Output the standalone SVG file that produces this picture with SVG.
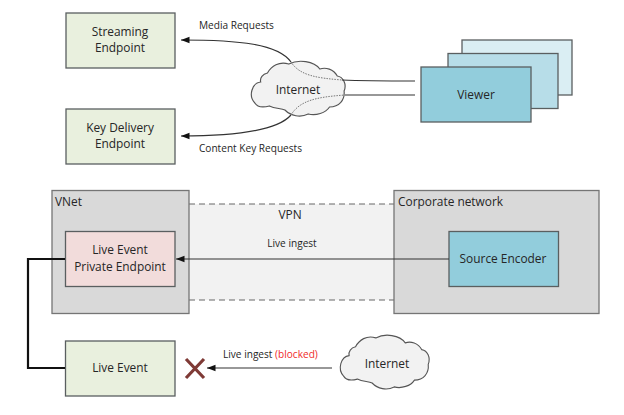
<svg xmlns="http://www.w3.org/2000/svg" width="624" height="415" viewBox="0 0 624 415">
<style>
text{font-family:"Open Sans","Noto Sans","Liberation Sans",sans-serif;fill:#262626;text-anchor:middle}
.n{font-size:11.9px}
.s{font-size:10.1px}
.l{text-anchor:start}
.box{stroke:#5a5f60;stroke-width:1.3}
.g{fill:#e9f0de}
.b{fill:#92cddc}
.net{fill:#d9d9d9;stroke:#757575;stroke-width:1.3}
.c{fill:none;stroke:#333;stroke-width:1.2}
.d{fill:none;stroke:#777;stroke-width:1;stroke-dasharray:1.5 1.2}
.vpn{fill:none;stroke:#666;stroke-width:1;stroke-dasharray:6 4}
.cloud{fill:#f2f2f2;stroke:#555;stroke-width:1.2}
</style>
<defs>
<marker id="a" markerUnits="userSpaceOnUse" markerWidth="10" markerHeight="8" refX="9.500" refY="4" orient="auto"><path d="M9.500 4L1 0.800V7.200Z" fill="#111"/></marker>
<path id="cl" d="M11 22C2 23 -2 36 5 43C8 48 16 47 20 46C26 49 32 48 36 50C42 56 52 58 60 54C68 56 78 53 82 47C92 47 98 40 97 31C100 24 96 17 90 16C86 9 78 7 72 9C66 1 50 -1 40 4C30 1 22 6 18 13C13 14 10 18 11 22Z"/>
</defs>
<g id="vpn">
<rect x="189" y="204" width="205" height="96" fill="#f2f2f2"/>
<path class="vpn" d="M189 204H394M189 300H394"/>
<text class="n" x="290" y="219">VPN</text>
</g>
<g id="streaming-endpoint"><rect class="box g" x="66" y="13" width="109" height="55"/><text class="n" x="120" y="36">Streaming</text><text class="n" x="120" y="52">Endpoint</text></g>
<g id="key-delivery-endpoint"><rect class="box g" x="66" y="109" width="109" height="55"/><text class="n" x="120" y="132">Key Delivery</text><text class="n" x="120" y="148">Endpoint</text></g>
<g id="internet-top"><use href="#cl" class="cloud" transform="translate(250 60) scale(.97 1)"/>
<path class="d" d="M291 62C300 76 318 78 342 80M291 115C300 100 318 97 345 95"/>
<text class="n" x="298" y="94">Internet</text></g>
<g id="viewer">
<rect class="box" fill="#daeef3" x="462" y="40" width="110" height="55"/>
<rect class="box" fill="#b7dde8" x="448" y="53.500" width="110" height="55"/>
<rect class="box b" x="421" y="67" width="110" height="55"/>
<text class="n" x="476" y="99">Viewer</text></g>
<g id="vnet"><rect class="net" x="52" y="190.500" width="137" height="123"/><text class="n l" x="55" y="206">VNet</text></g>
<g id="private-endpoint"><rect class="box" fill="#f2dcdb" x="65.500" y="231.500" width="109.500" height="55"/><text class="n" x="120" y="254">Live Event</text><text class="n" x="120" y="271">Private Endpoint</text></g>
<g id="corporate-network"><rect class="net" x="394" y="190.500" width="205" height="123"/><text class="n l" x="398" y="206">Corporate network</text></g>
<g id="source-encoder"><rect class="box b" x="449" y="231.500" width="109.500" height="55"/><text class="n" x="503" y="263">Source Encoder</text></g>
<g id="live-event"><rect class="box g" x="65.500" y="341" width="109.500" height="55"/><text class="n" x="120" y="372">Live Event</text></g>
<g id="blocked"><path d="M186 359L204 378M204 359L186 378" stroke="#7f3a36" stroke-width="3.2" fill="none"/></g>
<g id="internet-bottom"><use href="#cl" class="cloud" transform="translate(339 334) scale(.92 .98)"/><text class="n" x="387" y="368">Internet</text></g>
<g id="connectors">
<path class="c" d="M291 62C278 44 240 40 181 40" marker-end="url(#a)"/>
<path class="c" d="M291 115C278 130 240 136 181 136" marker-end="url(#a)"/>
<path class="c" d="M342 80C365 81 390 81 415 81M345 95C365 95 390 95 415 95"/>
<path class="c" d="M449 259H176" marker-end="url(#a)"/>
<path d="M65 259H28V368H65" fill="none" stroke="#111" stroke-width="2.2"/>
<path class="c" d="M332 368H207" marker-end="url(#a)"/>
</g>
<g id="labels">
<text class="s l" x="199" y="29">Media Requests</text>
<text class="s l" x="199" y="152">Content Key Requests</text>
<text class="s" x="292" y="247">Live ingest</text>
<text class="s l" x="223" y="358">Live ingest <tspan fill="#f02a2a">(blocked)</tspan></text>
</g>
</svg>
